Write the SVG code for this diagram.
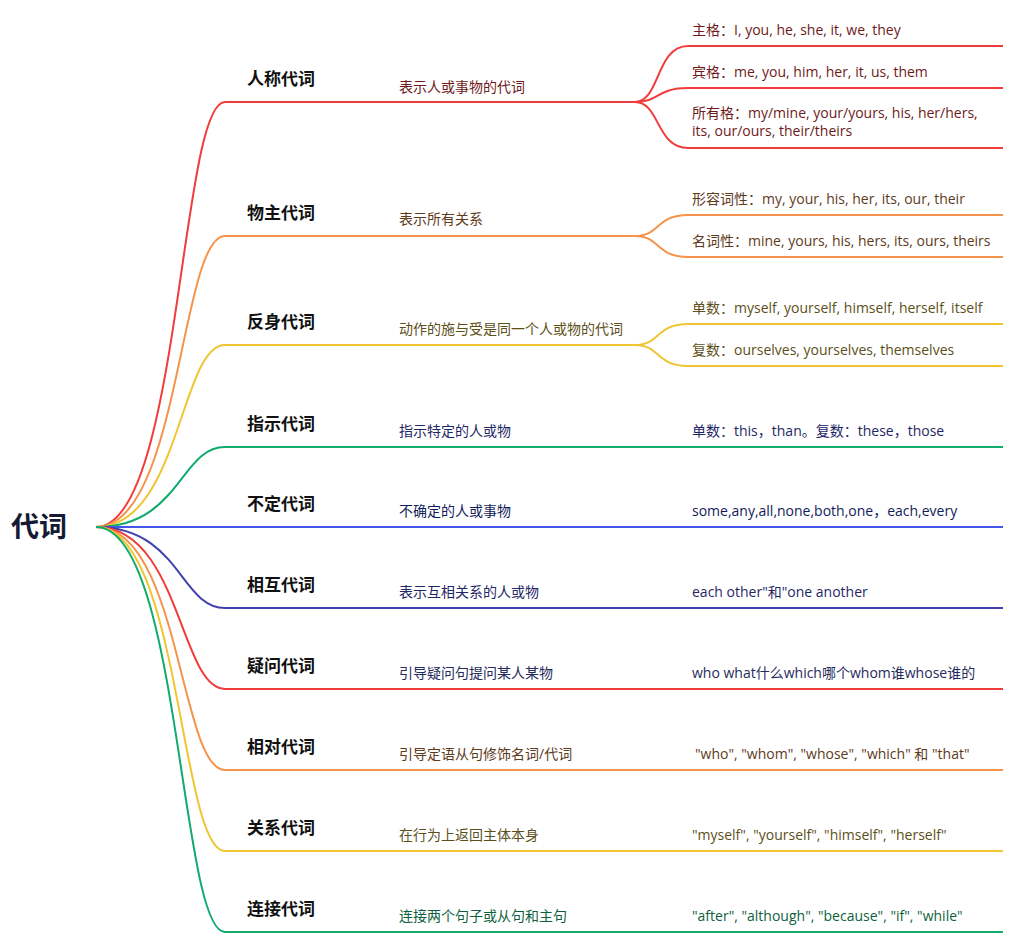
<svg xmlns="http://www.w3.org/2000/svg" width="1033" height="948" viewBox="0 0 1033 948">
<style>
text{font-family:"Open Sans","Noto Sans CJK SC",sans-serif;}
.root{font-family:"Noto Sans CJK SC",sans-serif;font-size:28px;font-weight:700;fill:#151a33;}
.l1{font-family:"Noto Sans CJK SC",sans-serif;font-size:17px;font-weight:600;fill:#111;}
.l2,.l3{font-size:14px;}
.ln{fill:none;stroke-width:2;stroke-linecap:butt;}
.r{stroke:#f23b3b}.o{stroke:#f5934a}.y{stroke:#f0c531}.g{stroke:#10ab6d}.b{stroke:#4358e8}.i{stroke:#4141b0}
.tr{fill:#6e1a1a}.to{fill:#5e3a1a}.ty{fill:#5d4f19}.tn{fill:#1f2766}.tb{fill:#131c5a}.tq{fill:#262a5c}.tg{fill:#0e5f3d}
</style>
<rect width="1033" height="948" fill="#fff"/>
<g id="connectors">
<path class="ln r" d="M96,527 C180,527 180,102 225,102"/>
<path class="ln o" d="M96,527 C180,527 180,236 225,236"/>
<path class="ln y" d="M96,527 C180,527 180,345 225,345"/>
<path class="ln g" d="M96,527 C180,527 180,447 225,447"/>
<path class="ln b" d="M96,527 L225,527"/>
<path class="ln i" d="M96,527 C180,527 180,608 225,608"/>
<path class="ln r" d="M96,527 C180,527 180,689 225,689"/>
<path class="ln o" d="M96,527 C180,527 180,770 225,770"/>
<path class="ln y" d="M96,527 C180,527 180,851 225,851"/>
<path class="ln g" d="M96,527 C180,527 180,932 225,932"/>
<path class="ln r" d="M338,102 L390,102"/>
<path class="ln o" d="M338,236 L390,236"/>
<path class="ln y" d="M338,345 L390,345"/>
<path class="ln g" d="M338,447 L390,447"/>
<path class="ln b" d="M338,527 L390,527"/>
<path class="ln i" d="M338,608 L390,608"/>
<path class="ln r" d="M338,689 L390,689"/>
<path class="ln o" d="M338,770 L390,770"/>
<path class="ln y" d="M338,851 L390,851"/>
<path class="ln g" d="M338,932 L390,932"/>
<path class="ln r" d="M635,102 C660,102 656,46 688,46"/>
<path class="ln r" d="M635,102 C660,102 656,88 688,88"/>
<path class="ln r" d="M635,102 C660,102 656,148 688,148"/>
<path class="ln o" d="M635,236 C660,236 656,215 688,215"/>
<path class="ln o" d="M635,236 C660,236 656,257 688,257"/>
<path class="ln y" d="M635,345 C660,345 656,324 688,324"/>
<path class="ln y" d="M635,345 C660,345 656,366 688,366"/>
<path class="ln g" d="M635,447 L688,447"/>
<path class="ln b" d="M635,527 L688,527"/>
<path class="ln i" d="M635,608 L688,608"/>
<path class="ln r" d="M635,689 L688,689"/>
<path class="ln o" d="M635,770 L688,770"/>
<path class="ln y" d="M635,851 L688,851"/>
<path class="ln g" d="M635,932 L688,932"/>
</g>
<g id="root"><text class="root" x="11" y="537">代词</text></g>

<g id="n-rencheng"><path class="ln r" d="M225,102 H338"/><text class="l1" x="247" y="85">人称代词</text></g>
<g id="n-rencheng-d"><path class="ln r" d="M390,102 H635"/><text class="l2 tr" x="399" y="92">表示人或事物的代词</text></g>
<g id="n-zhuge"><path class="ln r" d="M688,46 H1003"/><text class="l3 tr" x="692" y="35">主格：I, you, he, she, it, we, they</text></g>
<g id="n-binge"><path class="ln r" d="M688,88 H1003"/><text class="l3 tr" x="692" y="77">宾格：me, you, him, her, it, us, them</text></g>
<g id="n-suoyouge"><path class="ln r" d="M688,148 H1003"/><text class="l3 tr" x="692" y="118">所有格：my/mine, your/yours, his, her/hers,</text><text class="l3 tr" x="692" y="136">its, our/ours, their/theirs</text></g>

<g id="n-wuzhu"><path class="ln o" d="M225,236 H338"/><text class="l1 " x="247" y="219">物主代词</text></g>
<g id="n-wuzhu-d"><path class="ln o" d="M390,236 H635"/><text class="l2 to" x="399" y="224">表示所有关系</text></g>
<g id="n-xingrong"><path class="ln o" d="M688,215 H1003"/><text class="l3 to" x="692" y="204">形容词性：my, your, his, her, its, our, their</text></g>
<g id="n-mingci"><path class="ln o" d="M688,257 H1003"/><text class="l3 to" x="692" y="246">名词性：mine, yours, his, hers, its, ours, theirs</text></g>

<g id="n-fanshen"><path class="ln y" d="M225,345 H338"/><text class="l1" x="247" y="328">反身代词</text></g>
<g id="n-fanshen-d"><path class="ln y" d="M390,345 H635"/><text class="l2 ty" x="399" y="334">动作的施与受是同一个人或物的代词</text></g>
<g id="n-danshu"><path class="ln y" d="M688,324 H1003"/><text class="l3 ty" x="692" y="313">单数：myself, yourself, himself, herself, itself</text></g>
<g id="n-fushu"><path class="ln y" d="M688,366 H1003"/><text class="l3 ty" x="692" y="355">复数：ourselves, yourselves, themselves</text></g>

<g id="n-zhishi"><path class="ln g" d="M225,447 H338"/><text class="l1" x="247" y="430">指示代词</text></g>
<g id="n-zhishi-d"><path class="ln g" d="M390,447 H635"/><text class="l2 tn" x="399" y="436">指示特定的人或物</text></g>
<g id="n-zhishi-e"><path class="ln g" d="M688,447 H1003"/><text class="l3 tn" x="692" y="436">单数：this，than。复数：these，those</text></g>

<g id="n-buding"><path class="ln b" d="M225,527 H338"/><text class="l1" x="247" y="510">不定代词</text></g>
<g id="n-buding-d"><path class="ln b" d="M390,527 H635"/><text class="l2 tb" x="399" y="516">不确定的人或事物</text></g>
<g id="n-buding-e"><path class="ln b" d="M688,527 H1003"/><text class="l3 tb" x="692" y="516">some,any,all,none,both,one，each,every</text></g>

<g id="n-huxiang"><path class="ln i" d="M225,608 H338"/><text class="l1" x="247" y="591">相互代词</text></g>
<g id="n-huxiang-d"><path class="ln i" d="M390,608 H635"/><text class="l2 tn" x="399" y="597">表示互相关系的人或物</text></g>
<g id="n-huxiang-e"><path class="ln i" d="M688,608 H1003"/><text class="l3 tn" x="692" y="597">each other"和"one another</text></g>

<g id="n-yiwen"><path class="ln r" d="M225,689 H338"/><text class="l1" x="247" y="672">疑问代词</text></g>
<g id="n-yiwen-d"><path class="ln r" d="M390,689 H635"/><text class="l2 tq" x="399" y="678">引导疑问句提问某人某物</text></g>
<g id="n-yiwen-e"><path class="ln r" d="M688,689 H1003"/><text class="l3 tq" x="692" y="678">who what什么which哪个whom谁whose谁的</text></g>

<g id="n-xiangdui"><path class="ln o" d="M225,770 H338"/><text class="l1" x="247" y="753">相对代词</text></g>
<g id="n-xiangdui-d"><path class="ln o" d="M390,770 H635"/><text class="l2 to" x="399" y="759">引导定语从句修饰名词/代词</text></g>
<g id="n-xiangdui-e"><path class="ln o" d="M688,770 H1003"/><text class="l3 to" x="695" y="759">"who", "whom", "whose", "which" 和 "that"</text></g>

<g id="n-guanxi"><path class="ln y" d="M225,851 H338"/><text class="l1" x="247" y="834">关系代词</text></g>
<g id="n-guanxi-d"><path class="ln y" d="M390,851 H635"/><text class="l2 ty" x="399" y="840">在行为上返回主体本身</text></g>
<g id="n-guanxi-e"><path class="ln y" d="M688,851 H1003"/><text class="l3 ty" x="692" y="840">"myself", "yourself", "himself", "herself"</text></g>

<g id="n-lianjie"><path class="ln g" d="M225,932 H338"/><text class="l1" x="247" y="915">连接代词</text></g>
<g id="n-lianjie-d"><path class="ln g" d="M390,932 H635"/><text class="l2 tg" x="399" y="921">连接两个句子或从句和主句</text></g>
<g id="n-lianjie-e"><path class="ln g" d="M688,932 H1003"/><text class="l3 tg" x="692" y="921">"after", "although", "because", "if", "while"</text></g>
</svg>
